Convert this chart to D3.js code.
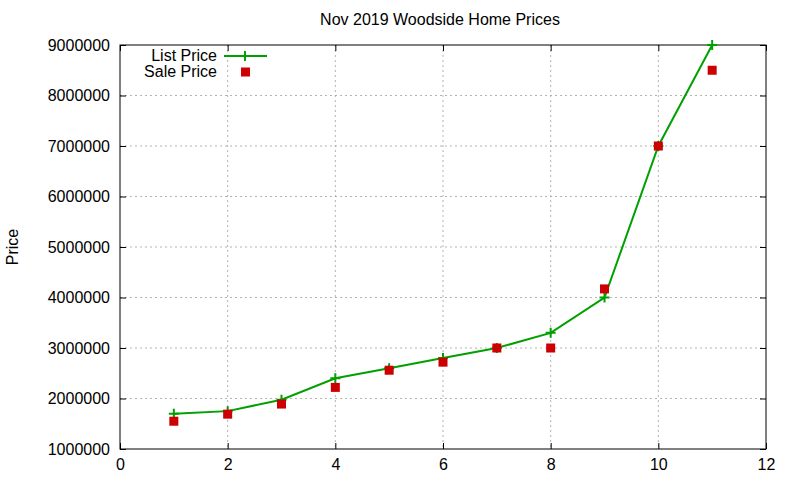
<!DOCTYPE html>
<html><head><meta charset="utf-8">
<script src="https://cdn.jsdelivr.net/npm/d3@7"></script>
<style>body{margin:0;background:#fff}text{font-family:"Liberation Sans",Arial,sans-serif}</style>
</head><body><svg id="c" width="800" height="480"></svg>
<script>
const xs = [1,2,3,4,5,6,7,8,9,10,11];
const listPrice = [1700000,1750000,1975000,2400000,2600000,2800000,3000000,3300000,4000000,7000000,9000000];
const salePrice = [1550000,1690000,1890000,2220000,2560000,2720000,3000000,3000000,4170000,7000000,8500000];
const xTicks = [0,2,4,6,8,10,12];
const yTicks = [1000000,2000000,3000000,4000000,5000000,6000000,7000000,8000000,9000000];

const svg = d3.select("#c");
const L=120,R=766,T=45,B=449;
const x = d3.scaleLinear().domain([0,12]).range([L,R]);
const y = d3.scaleLinear().domain([1000000,9000000]).range([B,T]);

const g = svg.append("g");
g.selectAll(".gx").data(xTicks.slice(1,-1)).enter().append("line")
 .attr("x1",d=>x(d)).attr("x2",d=>x(d)).attr("y1",T).attr("y2",B)
 .attr("stroke","#a0a0a0").attr("stroke-dasharray","2,3").attr("stroke-width",0.8);
g.selectAll(".gy").data(yTicks.slice(1,-1)).enter().append("line")
 .attr("y1",d=>y(d)).attr("y2",d=>y(d)).attr("x1",L).attr("x2",R)
 .attr("stroke","#a0a0a0").attr("stroke-dasharray","2,3").attr("stroke-width",0.8);

const xa = svg.append("g").attr("transform",`translate(0,${B})`)
 .call(d3.axisBottom(x).tickValues(xTicks).tickSize(-6).tickPadding(10).tickFormat(d3.format("d")));
const xa2 = svg.append("g").attr("transform",`translate(0,${T})`)
 .call(d3.axisTop(x).tickValues(xTicks).tickSize(-6).tickFormat(""));
const ya = svg.append("g").attr("transform",`translate(${L},0)`)
 .call(d3.axisLeft(y).tickValues(yTicks).tickSize(-6).tickPadding(10).tickFormat(d3.format("d")));
const ya2 = svg.append("g").attr("transform",`translate(${R},0)`)
 .call(d3.axisRight(y).tickValues(yTicks).tickSize(-6).tickFormat(""));
[xa,xa2,ya,ya2].forEach(a=>{a.select(".domain").remove();a.selectAll("text").attr("font-size",16).attr("fill","#000");a.selectAll("line").attr("stroke","#000");});
svg.append("rect").attr("x",L).attr("y",T).attr("width",R-L).attr("height",B-T).attr("fill","none").attr("stroke","#000");

const line = d3.line().x((d,i)=>x(xs[i])).y(d=>y(d));
svg.append("path").datum(listPrice).attr("d",line).attr("fill","none").attr("stroke","#00a000").attr("stroke-width",2);
const plus=(sel,cx,cy)=>{sel.append("path").attr("d",`M${cx-5},${cy}H${cx+5}M${cx},${cy-5}V${cy+5}`).attr("stroke","#00a000").attr("stroke-width",2);};
listPrice.forEach((v,i)=>plus(svg,x(xs[i]),y(v)));
svg.selectAll(".s").data(salePrice).enter().append("rect")
 .attr("x",(d,i)=>x(xs[i])-4.5).attr("y",d=>y(d)-4.5).attr("width",9).attr("height",9).attr("fill","#cc0000");

svg.append("text").attr("x",217).attr("y",61).attr("text-anchor","end").attr("font-size",16).text("List Price");
svg.append("line").attr("x1",224).attr("x2",267).attr("y1",56).attr("y2",56).attr("stroke","#00a000").attr("stroke-width",2);
plus(svg,245,56);
svg.append("text").attr("x",217).attr("y",77).attr("text-anchor","end").attr("font-size",16).text("Sale Price");
svg.append("rect").attr("x",241).attr("y",67.5).attr("width",9).attr("height",9).attr("fill","#cc0000");

svg.append("text").attr("x",440).attr("y",25).attr("text-anchor","middle").attr("font-size",16).text("Nov 2019 Woodside Home Prices");
svg.append("text").attr("transform","translate(18,247) rotate(-90)").attr("text-anchor","middle").attr("font-size",16).text("Price");
</script></body></html>
